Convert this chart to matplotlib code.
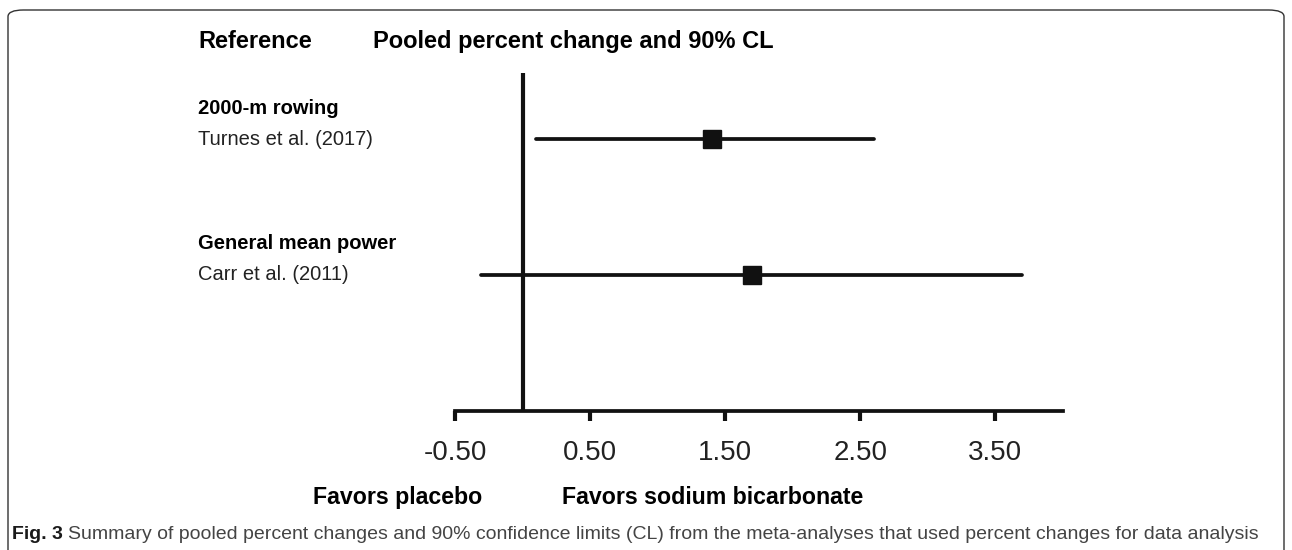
import matplotlib.pyplot as plt
from matplotlib.patches import FancyBboxPatch

plt.rcParams['font.family'] = ['Liberation Sans', 'DejaVu Sans']

# data
groups = ['2000-m rowing', 'General mean power']
studies = ['Turnes et al. (2017)', 'Carr et al. (2011)']
estimate = [1.4, 1.7]
lower = [0.1, -0.31]
upper = [2.6, 3.7]
xticks = [-0.5, 0.5, 1.5, 2.5, 3.5]
xtick_labels = ['-0.50', '0.50', '1.50', '2.50', '3.50']

W, H = 1292, 550


def px(x, y):
    # pixel position (from top-left) -> figure fraction
    return x / W, 1 - y / H


fig = plt.figure(figsize=(W / 100, H / 100), dpi=100)

# rounded frame around figure + caption (bottom edge runs off the image)
frame = FancyBboxPatch((8 / W, -20 / H), 1276 / W, 560 / H,
                       boxstyle="round,pad=0,rounding_size=0.012",
                       transform=fig.transFigure, fill=False,
                       edgecolor='#333333', lw=1.0)
fig.patches.append(frame)

ax = fig.add_axes([455 / W, (550 - 411) / H, 608 / W, 338 / H])
ypos = [1, 2]
for y, e, lo, hi in zip(ypos, estimate, lower, upper):
    ax.plot([lo, hi], [y, y], color='#111111', lw=2.7, solid_capstyle='round')
    ax.plot(e, y, marker='s', color='#111111', markersize=13)
ax.axvline(0, color='#111111', lw=3.0)

ax.set_xlim(-0.5, 4.0)
ax.set_ylim(3.0, 0.515)
ax.set_xticks(xticks)
ax.set_xticklabels(xtick_labels, fontsize=20, color='#222222')
ax.set_yticks([])
for s in ['top', 'right', 'left']:
    ax.spines[s].set_visible(False)
ax.spines['bottom'].set_linewidth(2.7)
ax.spines['bottom'].set_color('#111111')
ax.tick_params(axis='x', direction='out', length=7, width=3, pad=14,
               color='#111111')
ax.patch.set_alpha(0)

# header
fig.text(*px(198, 48), 'Reference', fontsize=17, fontweight='bold', va='baseline')
fig.text(*px(373, 48), 'Pooled percent change and 90% CL', fontsize=17,
         fontweight='bold', va='baseline')

# row labels
label_y = [(114, 145), (249, 280)]
for (gy, sy), g, s in zip(label_y, groups, studies):
    fig.text(*px(198, gy), g, fontsize=14.5, fontweight='bold', va='baseline')
    fig.text(*px(198, sy), s, fontsize=14.5, va='baseline', color='#222222')

# direction labels
fig.text(*px(313, 504), 'Favors placebo', fontsize=16.7, fontweight='bold',
         va='baseline')
fig.text(*px(562, 504), 'Favors sodium bicarbonate', fontsize=16.7,
         fontweight='bold', va='baseline')

# caption
fig.text(*px(12, 539), 'Fig. 3', fontsize=14, fontweight='bold', va='baseline',
         color='#1a1a1a')
fig.text(*px(68, 539), 'Summary of pooled percent changes and 90% confidence limits (CL) '
         'from the meta-analyses that used percent changes for data analysis',
         fontsize=14.0, va='baseline', color='#444444')

fig.savefig('out.png', dpi=100)
